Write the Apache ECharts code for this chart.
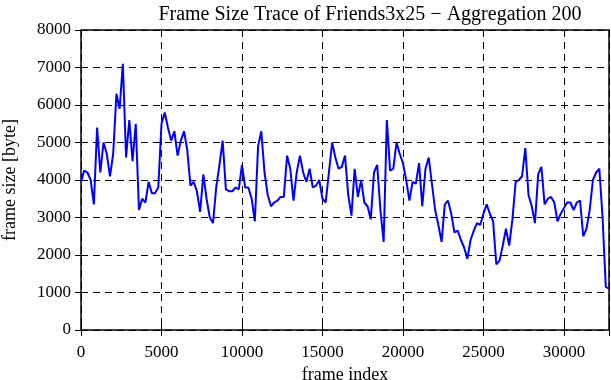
<!DOCTYPE html>
<html>
<head>
<meta charset="utf-8">
<script src="https://cdn.jsdelivr.net/npm/echarts@6/dist/echarts.min.js"></script>
<style>
  html,body{margin:0;padding:0;background:#fff;}
  #chart{width:611px;height:380px;}
</style>
</head>
<body>
<div id="chart"></div>
<script>
// frames are aggregated in blocks of 200
const aggregation = 200
const xTicks = [0, 5000, 10000, 15000, 20000, 25000, 30000]
const yTicks = [0, 1000, 2000, 3000, 4000, 5000, 6000, 7000, 8000]
// frame size [byte] per aggregated block
const frameSize = [
  3950, 4250, 4200, 4000, 3350, 5400, 4200, 5000, 4700, 4100,
  4700, 6300, 5900, 7100, 4600, 5600, 4500, 5500, 3200, 3500,
  3400, 3950, 3650, 3650, 3800, 5500, 5800, 5400, 5050, 5300,
  4650, 5050, 5300, 4800, 3850, 3950, 3700, 3150, 4150, 3500,
  3000, 2850, 3800, 4400, 5050, 3750, 3700, 3700, 3800, 3750,
  4400, 3800, 3800, 3500, 2900, 4900, 5300, 4200, 3600, 3300,
  3400, 3450, 3550, 3550, 4650, 4300, 3450, 4200, 4650, 4200,
  3950, 4300, 3800, 3850, 4000, 3500, 3400, 4200, 5000, 4600,
  4300, 4350, 4650, 3600, 3050, 4300, 3550, 4000, 3400, 3300,
  2950, 4200, 4400, 3200, 2350, 5600, 4250, 4300, 5000, 4700,
  4450, 4000, 3450, 3950, 3900, 4450, 3300, 4300, 4600, 3900,
  3200, 2800, 2350, 3350, 3450, 3100, 2600, 2650, 2400, 2200,
  1900, 2400, 2650, 2850, 2800, 3100, 3350, 3100, 2900, 1750,
  1850, 2250, 2700, 2250, 2950, 3950, 4000, 4100, 4850, 3600,
  3300, 2850, 4150, 4350, 3350, 3500, 3550, 3400, 2900, 3100,
  3250, 3400, 3400, 3200, 3400, 3450, 2500, 2700, 3200, 4000,
  4200, 4300, 3000, 1150, 1100
]

const font = "'Liberation Serif', 'DejaVu Serif', serif"
const points = frameSize.map((v, i) => [i * aggregation, v])

let myChart = echarts.init(document.getElementById("chart"), null, {renderer: "canvas"})

const xBase = {
  type: "value",
  min: 0,
  max: 32800,
  interval: 5000,
  axisLine: {show: false},
  axisTick: {show: true, inside: true, length: 6, lineStyle: {color: "#000", width: 1}},
  splitLine: {show: false}
}
const yBase = {
  type: "value",
  min: yTicks[0],
  max: yTicks[yTicks.length - 1],
  interval: 1000,
  axisLine: {show: false},
  axisTick: {show: true, inside: true, length: 6, lineStyle: {color: "#000", width: 1}},
  splitLine: {show: false}
}

myChart.setOption({
  animation: false,
  backgroundColor: "#fff",
  title: {
    text: "Frame Size Trace of Friends3x25 \u2212 Aggregation 200",
    left: 365,
    textAlign: "center",
    top: 0,
    textStyle: {fontFamily: font, fontSize: 20, fontWeight: "normal", color: "#000"}
  },
  grid: {
    left: 81, right: 2, top: 30, bottom: 50,
    containLabel: false,
    outerBoundsMode: "none",
    show: true,
    borderColor: "#000",
    borderWidth: 1.5,
    backgroundColor: "transparent"
  },
  xAxis: [
    Object.assign({}, xBase, {
      position: "bottom",
      name: "frame index",
      nameLocation: "middle",
      nameGap: 34,
      nameTextStyle: {fontFamily: font, fontSize: 18, color: "#000"},
      axisLabel: {
        fontFamily: font, fontSize: 17, color: "#000", margin: 14,
        formatter: v => xTicks.indexOf(v) >= 0 ? String(v) : ""
      },
      splitLine: {show: true, lineStyle: {color: "#000", type: [7, 5], width: 1}}
    }),
    Object.assign({}, xBase, {position: "top", axisLabel: {show: false}})
  ],
  yAxis: [
    Object.assign({}, yBase, {
      position: "left",
      name: "frame size [byte]",
      nameLocation: "middle",
      nameGap: 62,
      nameTextStyle: {fontFamily: font, fontSize: 18, color: "#000"},
      axisLabel: {fontFamily: font, fontSize: 17, color: "#000", margin: 10, formatter: v => String(v)},
      splitLine: {show: true, lineStyle: {color: "#000", type: [7, 5], width: 1}}
    }),
    Object.assign({}, yBase, {position: "right", axisLabel: {show: false}})
  ],
  series: [
    {
      type: "line",
      data: points,
      xAxisIndex: 0,
      yAxisIndex: 0,
      showSymbol: false,
      smooth: false,
      lineStyle: {color: "#0000ff", width: 2},
      z: 3
    }
  ]
})
</script>
</body>
</html>
